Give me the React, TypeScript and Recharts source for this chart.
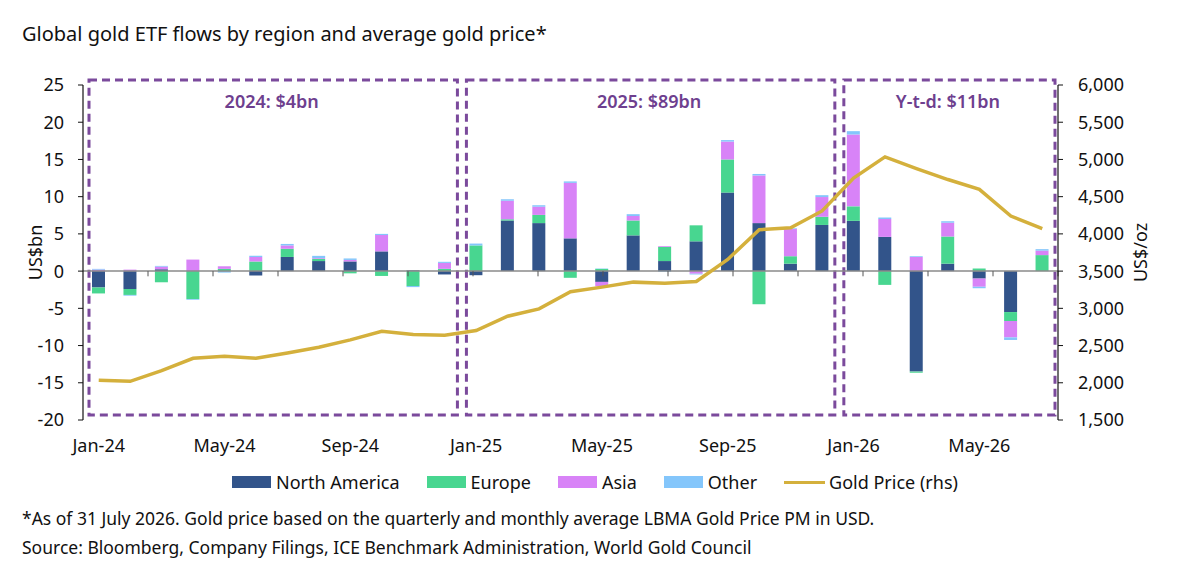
import {
  Bar,
  ComposedChart,
  Line,
  ReferenceArea,
  ReferenceLine,
  XAxis,
  YAxis,
} from "recharts";

const NAVY = "#32548a";
const GREEN = "#48d690";
const PINK = "#d883f7";
const SKY = "#84c6fb";
const GOLD = "#d4b03c";
const PURPLE = "#7b4a9c";
const LABEL_PURPLE = "#6e3f8f";
const FONT = "'Noto Sans', 'Open Sans', sans-serif";

const months = [
  "Jan-24", "Feb-24", "Mar-24", "Apr-24", "May-24", "Jun-24", "Jul-24", "Aug-24", "Sep-24", "Oct-24", "Nov-24", "Dec-24",
  "Jan-25", "Feb-25", "Mar-25", "Apr-25", "May-25", "Jun-25", "Jul-25", "Aug-25", "Sep-25", "Oct-25", "Nov-25", "Dec-25",
  "Jan-26", "Feb-26", "Mar-26", "Apr-26", "May-26", "Jun-26", "Jul-26",
];

const northAmerica = [
  -2.2, -2.4, 0.25, 0, 0, -0.6, 1.9, 1.35, 1.3, 2.65, 0.1, -0.45,
  -0.55, 6.8, 6.45, 4.4, -1.45, 4.8, 1.35, 4.0, 10.55, 6.45, 1.0, 6.2,
  6.75, 4.6, -13.5, 1.0, -1.0, -5.5, 0,
];
const europe = [
  -0.8, -0.8, -1.5, -3.75, 0.3, 1.3, 1.1, 0.3, -0.3, -0.65, -2.0, 0.3,
  3.45, 0.15, 1.1, -0.9, 0.3, 2.0, 1.9, 2.15, 4.45, -4.45, 1.0, 1.1,
  1.95, -1.85, -0.15, 3.65, 0.35, -1.2, 2.15,
];
const asia = [
  0.2, 0.2, 0.35, 1.55, 0.35, 0.6, 0.45, 0.1, 0.2, 2.2, 0, 0.8,
  0, 2.5, 1.1, 7.45, -0.6, 0.6, 0.1, -0.35, 2.4, 6.4, 3.65, 2.65,
  9.65, 2.4, 1.9, 1.85, -1.1, -2.2, 0.6,
];
const other = [
  0.1, -0.1, 0.1, -0.1, -0.2, 0.15, 0.2, 0.3, 0.2, 0.15, -0.15, 0.15,
  0.25, 0.2, 0.2, 0.2, 0.05, 0.25, -0.1, -0.1, 0.2, 0.2, 0.1, 0.25,
  0.45, 0.2, 0.1, 0.2, -0.2, -0.35, 0.2,
];
const goldPrice = [
  2033, 2020, 2163, 2329, 2356, 2329, 2401, 2477, 2576, 2692, 2647, 2639,
  2701, 2894, 2993, 3222, 3285, 3352, 3338, 3361, 3657, 4056, 4083, 4308,
  4750, 5035, 4878, 4730, 4599, 4240, 4070,
];

const leftTicks = [-20, -15, -10, -5, 0, 5, 10, 15, 20, 25];
const rightTicks = [1500, 2000, 2500, 3000, 3500, 4000, 4500, 5000, 5500, 6000];
// small marks on the zero line, every second month boundary
const zeroTicks = [2, 4, 6, 8, 10, 12, 14, 16, 18, 20, 22, 24, 26, 28, 30];

const periods = [
  { from: "Jan-24", to: "Dec-24", label: "2024: $4bn" },
  { from: "Jan-25", to: "Dec-25", label: "2025: $89bn" },
  { from: "Jan-26", to: "Jul-26", label: "Y-t-d: $11bn" },
];

const series = [
  { key: "northAmerica", name: "North America", color: NAVY },
  { key: "europe", name: "Europe", color: GREEN },
  { key: "asia", name: "Asia", color: PINK },
  { key: "other", name: "Other", color: SKY },
];

const data = months.map((month, i) => ({
  month,
  northAmerica: northAmerica[i],
  europe: europe[i],
  asia: asia[i],
  other: other[i],
  gold: goldPrice[i],
}));

function DashedBox(props: { x?: number; y?: number; width?: number; height?: number }) {
  const { x = 0, y = 0, width = 0, height = 0 } = props;
  return (
    <rect
      x={x + 6}
      y={y - 5}
      width={width - 9}
      height={height}
      fill="none"
      stroke={PURPLE}
      strokeWidth={3}
      strokeDasharray="8 5"
    />
  );
}

function LegendRow() {
  return (
    <div style={{ position: "absolute", left: 232, top: 470, display: "flex", gap: 27, alignItems: "center", fontSize: 18, color: "#111" }}>
      {series.map((s) => (
        <div key={s.key} style={{ display: "flex", alignItems: "center", gap: 5 }}>
          <span style={{ width: 39, height: 12, background: s.color, display: "inline-block" }} />
          <span>{s.name}</span>
        </div>
      ))}
      <div style={{ display: "flex", alignItems: "center", gap: 4 }}>
        <span style={{ width: 41, height: 3, background: GOLD, display: "inline-block" }} />
        <span>Gold Price (rhs)</span>
      </div>
    </div>
  );
}

export default function App() {
  const tick = { fill: "#111", fontSize: 18, fontFamily: FONT };
  return (
    <div style={{ position: "absolute", left: 0, top: 0, width: 1186, height: 584, background: "#fff", fontFamily: FONT, color: "#111" }}>
      <div style={{ position: "absolute", left: 22, top: 20, fontSize: 20 }}>
        Global gold ETF flows by region and average gold price*
      </div>
      <div style={{ position: "absolute", left: 0, top: 0 }}>
        <ComposedChart
          width={1186}
          height={470}
          data={data}
          stackOffset="sign"
          margin={{ top: 85, right: 0, left: 0, bottom: 0 }}
        >
          <XAxis
            dataKey="month"
            interval={3}
            height={50}
            tick={tick}
            tickLine={false}
            axisLine={false}
            tickMargin={13}
          />
          <XAxis xAxisId="num" type="number" domain={[0, 31]} hide />
          <YAxis
            yAxisId="left"
            width={83}
            domain={[-20, 25]}
            ticks={leftTicks}
            interval={0}
            tick={tick}
            tickSize={5}
            tickMargin={14}
            tickLine={{ stroke: "#111" }}
            axisLine={{ stroke: "#111", strokeWidth: 1.2 }}
            label={{ value: "US$bn", angle: -90, position: "center", dx: -6, fill: "#111", fontSize: 18, fontFamily: FONT }}
          />
          <YAxis
            yAxisId="right"
            orientation="right"
            width={128}
            domain={[1500, 6000]}
            ticks={rightTicks}
            interval={0}
            tick={tick}
            tickSize={5}
            tickMargin={15}
            tickLine={{ stroke: "#111" }}
            axisLine={{ stroke: "#111", strokeWidth: 1.2 }}
            tickFormatter={(v) => Number(v).toLocaleString("en-US")}
            label={{ value: "US$/oz", angle: -90, position: "center", dx: 19, fill: "#111", fontSize: 18, fontFamily: FONT }}
          />
          {periods.map((p) => (
            <ReferenceArea
              key={p.label}
              yAxisId="left"
              x1={p.from}
              x2={p.to}
              shape={<DashedBox />}
              label={{ value: p.label, position: "insideTop", offset: 10, fill: LABEL_PURPLE, fontSize: 18, fontWeight: 600, fontFamily: FONT }}
            />
          ))}
          <ReferenceLine yAxisId="left" y={0} stroke="#8a8a8a" strokeWidth={1.5} />
          {zeroTicks.map((t) => (
            <ReferenceLine
              key={t}
              xAxisId="num"
              yAxisId="left"
              segment={[{ x: t, y: 0 }, { x: t, y: -0.7 }]}
              stroke="#555"
              strokeWidth={1}
            />
          ))}
          {series.map((s) => (
            <Bar
              key={s.key}
              yAxisId="left"
              dataKey={s.key}
              name={s.name}
              stackId="flows"
              fill={s.color}
              barSize={13}
              isAnimationActive={false}
            />
          ))}
          <Line
            yAxisId="right"
            dataKey="gold"
            name="Gold Price (rhs)"
            type="linear"
            stroke={GOLD}
            strokeWidth={3.5}
            dot={false}
            isAnimationActive={false}
          />
        </ComposedChart>
      </div>
      <LegendRow />
      <div style={{ position: "absolute", left: 22, top: 506, fontSize: 17.5 }}>
        *As of 31 July 2026. Gold price based on the quarterly and monthly average LBMA Gold Price PM in USD.
      </div>
      <div style={{ position: "absolute", left: 22, top: 535, fontSize: 17.5 }}>
        Source: Bloomberg, Company Filings, ICE Benchmark Administration, World Gold Council
      </div>
    </div>
  );
}
